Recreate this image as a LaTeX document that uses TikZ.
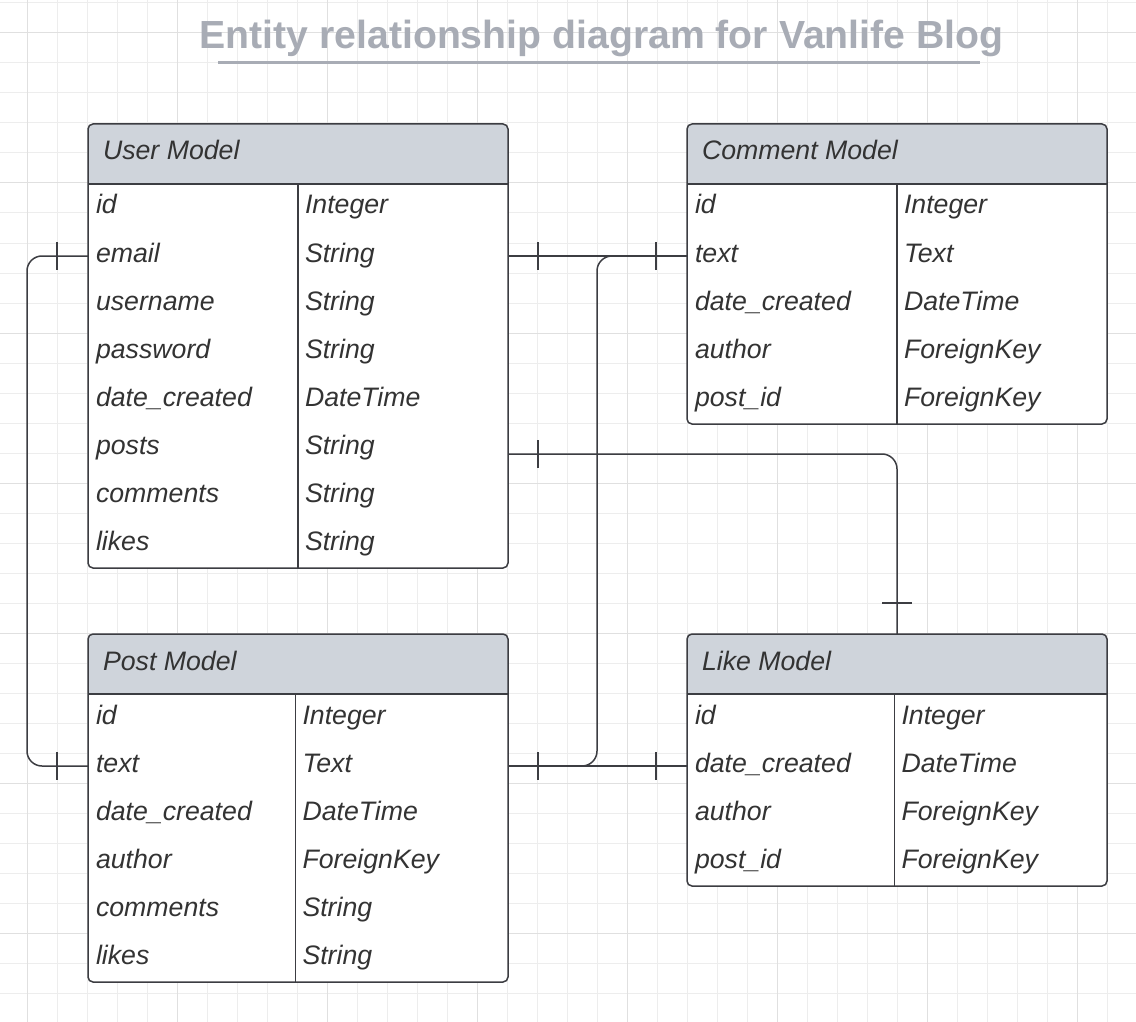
\documentclass[tikz,border=0pt]{standalone}
\usepackage{fontspec}
\setmainfont{Liberation Sans}
\begin{document}
\begin{tikzpicture}[x=1pt,y=-1pt,
  modelframe/.style={draw=lineColor,fill=white,line width=1.5pt,rounded corners=5pt,
    minimum width=420pt,anchor=north west,inner sep=0pt,outer sep=0pt,
    path picture={\fill[headColor,sharp corners] (path picture bounding box.north west) rectangle ([yshift=-60pt]path picture bounding box.north east);}},
  tablerule/.style={draw=lineColor,line width=1.5pt},
  cell/.style={text=textColor,font=\fontsize{26.7}{30}\selectfont\itshape,anchor=west,
    inner ysep=0pt,outer sep=0pt,minimum height=48pt,text height=18pt,text depth=6pt},
  headtext/.style={cell,inner xsep=15pt,minimum height=60pt},
  fieldname/.style={cell,inner xsep=8pt},
  fieldtype/.style={cell,inner xsep=7pt},
  relline/.style={draw=lineColor,line width=1.5pt,rounded corners=15pt},
  tickmark/.style={draw=lineColor,line width=1.2pt}]
\definecolor{fillColor}{RGB}{255,255,255}
\definecolor{lineColor}{RGB}{60,61,66}
\definecolor{headColor}{RGB}{207,212,219}
\definecolor{textColor}{RGB}{51,51,51}
\definecolor{titleColor}{RGB}{168,172,181}
\path[use as bounding box,fill=fillColor] (0,0) rectangle (1136,1022);

% background grid
\begin{scope}
\path[clip] (0,0) rectangle (1136,1022);
\definecolor{gridMinor}{RGB}{237,237,237}
\definecolor{gridMajor}{RGB}{224,224,224}
\foreach \gx in {27,57,...,1137} \draw[gridMinor,line width=1pt] (\gx,0) -- (\gx,1022);
\foreach \gy in {3,33,...,1023} \draw[gridMinor,line width=1pt] (0,\gy) -- (1136,\gy);
\foreach \gx in {27,177,...,1077} \draw[gridMajor,line width=1pt] (\gx,0) -- (\gx,1022);
\foreach \gy in {33,183,...,933} \draw[gridMajor,line width=1pt] (0,\gy) -- (1136,\gy);
\end{scope}

% title
\node[text=titleColor,font=\fontsize{39.2}{42}\selectfont\bfseries,anchor=base,inner sep=0pt] (title) at (601.5,48.5) {Entity relationship diagram for Vanlife Blog};
\path[draw=titleColor,line width=3pt] (218,63) -- (980,63);

% user model
\node[modelframe,minimum height=444pt] (user) at (88,124) {};
\path[tablerule] ([yshift=-60pt]user.north west) -- ([yshift=-60pt]user.north east);
\node[headtext] (user-head) at (88,154) {User Model};
\node[fieldname] (user-id) at (88,208) {id};
\node[fieldname] (user-email) at (88,256) {email};
\node[fieldname] (user-username) at (88,304) {username};
\node[fieldname] (user-password) at (88,352) {password};
\node[fieldname] (user-date) at (88,400) {date\_created};
\node[fieldname] (user-posts) at (88,448) {posts};
\node[fieldname] (user-comments) at (88,496) {comments};
\node[fieldname] (user-likes) at (88,544) {likes};
\node[fieldtype] (user-id-type) at (298,208) {Integer};
\node[fieldtype] (user-email-type) at (298,256) {String};
\node[fieldtype] (user-username-type) at (298,304) {String};
\node[fieldtype] (user-password-type) at (298,352) {String};
\node[fieldtype] (user-date-type) at (298,400) {DateTime};
\node[fieldtype] (user-posts-type) at (298,448) {String};
\node[fieldtype] (user-comments-type) at (298,496) {String};
\node[fieldtype] (user-likes-type) at (298,544) {String};
\path[tablerule] (user-id-type.north west) -- (user-likes-type.south west);

% comment model
\node[modelframe,minimum height=300pt] (comment) at (687,124) {};
\path[tablerule] ([yshift=-60pt]comment.north west) -- ([yshift=-60pt]comment.north east);
\node[headtext] (comment-head) at (687,154) {Comment Model};
\node[fieldname] (comment-id) at (687,208) {id};
\node[fieldname] (comment-text) at (687,256) {text};
\node[fieldname] (comment-date) at (687,304) {date\_created};
\node[fieldname] (comment-author) at (687,352) {author};
\node[fieldname] (comment-post) at (687,400) {post\_id};
\node[fieldtype] (comment-id-type) at (897,208) {Integer};
\node[fieldtype] (comment-text-type) at (897,256) {Text};
\node[fieldtype] (comment-date-type) at (897,304) {DateTime};
\node[fieldtype] (comment-author-type) at (897,352) {ForeignKey};
\node[fieldtype] (comment-post-type) at (897,400) {ForeignKey};
\path[tablerule] (comment-id-type.north west) -- (comment-post-type.south west);

% post model
\node[modelframe,minimum height=348pt] (post) at (88,634) {};
\path[tablerule] ([yshift=-60pt]post.north west) -- ([yshift=-60pt]post.north east);
\node[headtext] (post-head) at (88,664) {Post Model};
\node[fieldname] (post-id) at (88,718) {id};
\node[fieldname] (post-text) at (88,766) {text};
\node[fieldname] (post-date) at (88,814) {date\_created};
\node[fieldname] (post-author) at (88,862) {author};
\node[fieldname] (post-comments) at (88,910) {comments};
\node[fieldname] (post-likes) at (88,958) {likes};
\node[fieldtype] (post-id-type) at (295.5,718) {Integer};
\node[fieldtype] (post-text-type) at (295.5,766) {Text};
\node[fieldtype] (post-date-type) at (295.5,814) {DateTime};
\node[fieldtype] (post-author-type) at (295.5,862) {ForeignKey};
\node[fieldtype] (post-comments-type) at (295.5,910) {String};
\node[fieldtype] (post-likes-type) at (295.5,958) {String};
\path[tablerule] (post-id-type.north west) -- (post-likes-type.south west);

% like model
\node[modelframe,minimum height=252pt] (like) at (687,634) {};
\path[tablerule] ([yshift=-60pt]like.north west) -- ([yshift=-60pt]like.north east);
\node[headtext] (like-head) at (687,664) {Like Model};
\node[fieldname] (like-id) at (687,718) {id};
\node[fieldname] (like-date) at (687,766) {date\_created};
\node[fieldname] (like-author) at (687,814) {author};
\node[fieldname] (like-post) at (687,862) {post\_id};
\node[fieldtype] (like-id-type) at (894.5,718) {Integer};
\node[fieldtype] (like-date-type) at (894.5,766) {DateTime};
\node[fieldtype] (like-author-type) at (894.5,814) {ForeignKey};
\node[fieldtype] (like-post-type) at (894.5,862) {ForeignKey};
\path[tablerule] (like-id-type.north west) -- (like-post-type.south west);

% relationships
\coordinate (user-email-r) at (user-email.west -| user.east);
\coordinate (user-posts-r) at ([yshift=-6pt]user-posts.west -| user.east);
\coordinate (post-text-r) at (post-text.west -| post.east);

\path[relline] (user-email.west) -- ++(-61,0) |- (post-text.west);
\path[tickmark] ([xshift=-31pt]user-email.west) ++(0,-14) -- ++(0,28);
\path[tickmark] ([xshift=-31pt]post-text.west) ++(0,-14) -- ++(0,28);

\path[relline] (user-email-r) -- (comment-text.west);
\path[tickmark] ([xshift=30pt]user-email-r) ++(0,-14) -- ++(0,28);
\path[tickmark] ([xshift=-31pt]comment-text.west) ++(0,-14) -- ++(0,28);

\path[relline] (post-text-r) -- ++(89,0) |- (comment-text.west);
\path[relline] (post-text-r) -- (like-date.west);
\path[tickmark] ([xshift=30pt]post-text-r) ++(0,-14) -- ++(0,28);
\path[tickmark] ([xshift=-31pt]like-date.west) ++(0,-14) -- ++(0,28);

\path[relline] (user-posts-r) -| (like.north);
\path[tickmark] ([xshift=30pt]user-posts-r) ++(0,-14) -- ++(0,28);
\path[tickmark] ([yshift=31pt]like.north) ++(-15,0) -- ++(30,0);
\end{tikzpicture}
\end{document}
